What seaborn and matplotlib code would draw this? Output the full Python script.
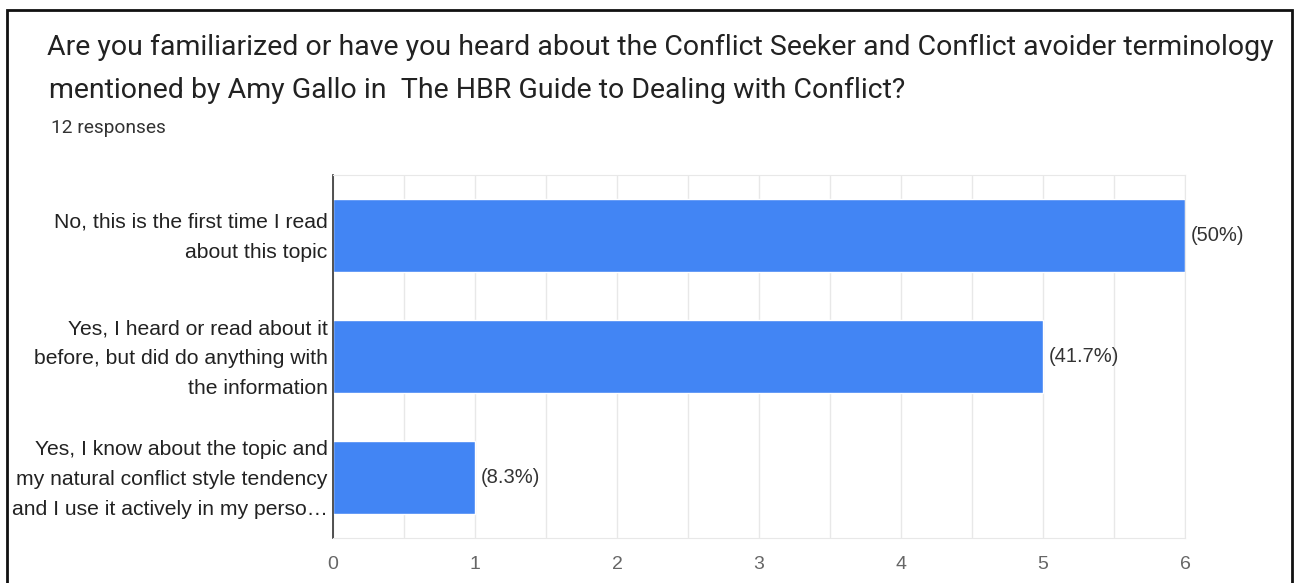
import matplotlib
matplotlib.use('Agg')
import matplotlib.pyplot as plt
import matplotlib.transforms as mtransforms
import seaborn as sns
import pandas as pd
from matplotlib.patches import Rectangle

titleLines = ['Are you familiarized or have you heard about the Conflict Seeker and Conflict avoider terminology',
              'mentioned by Amy Gallo in  The HBR Guide to Dealing with Conflict?']
subtitle = '12 responses'

answers = ['No, this is the first time I read\nabout this topic',
           'Yes, I heard or read about it\nbefore, but did do anything with\nthe information',
           'Yes, I know about the topic and\nmy natural conflict style tendency\nand I use it actively in my perso\u2026']
counts = [6, 5, 1]
percents = ['(50%)', '(41.7%)', '(8.3%)']
xTicks = [0, 1, 2, 3, 4, 5, 6]

W, H = 1295, 583


def main() -> None:

    sns.set_style('white')
    plt.rcParams['font.family'] = ['Liberation Sans', 'DejaVu Sans']

    fig = plt.figure(figsize = (W / 100, H / 100), dpi = 100)

    # outer frame of the screenshot
    fig.patches.append(Rectangle((7 / W, -0.05), 1285 / W, (H - 10) / H + 0.05,
                                 transform = fig.transFigure, fill = False,
                                 edgecolor = '#111111', linewidth = 2))

    fig.text(47 / W, 1 - 55 / H, titleLines[0], family = 'Roboto', fontsize = 20.5,
             color = '#222222', va = 'baseline')
    fig.text(49 / W, 1 - 98 / H, titleLines[1], family = 'Roboto', fontsize = 20.5,
             color = '#222222', va = 'baseline')
    fig.text(51 / W, 1 - 133 / H, subtitle, family = 'Roboto', fontsize = 13.8,
             color = '#333333', va = 'baseline')

    ax = fig.add_axes([333 / W, 45 / H, 852 / W, 363 / H])

    df = pd.DataFrame({'answer': answers, 'count': counts})
    sns.barplot(data = df, x = 'count', y = 'answer', orient = 'h', color = '#4285f4',
                saturation = 1, width = 0.61, ax = ax)

    ax.set_xlim(0, 6)
    ax.set_ylim(2.5, -0.5)
    ax.set_xticks(xTicks)
    ax.set_xticks([t + 0.5 for t in xTicks[:-1]], minor = True)
    ax.grid(True, axis = 'x', which = 'both', color = '#e8e8e8', linewidth = 1)
    ax.set_axisbelow(True)
    ax.set_xlabel('')
    ax.set_ylabel('')

    ax.tick_params(axis = 'x', which = 'both', length = 0, pad = 13, labelsize = 14, labelcolor = '#666666')
    ax.tick_params(axis = 'y', length = 0, pad = 4, labelsize = 15.2, labelcolor = '#222222')

    # nudge the multi-line labels up a little so they sit centred on the bars
    shift = mtransforms.ScaledTranslation(0, 4 / 72, fig.dpi_scale_trans)
    for lbl in ax.get_yticklabels():
        lbl.set_linespacing(1.72)
        lbl.set_transform(lbl.get_transform() + shift)

    for side in ['top', 'bottom', 'right']:
        ax.spines[side].set_color('#e8e8e8')
    ax.spines['left'].set_color('#333333')
    ax.spines['left'].set_linewidth(1.2)

    for i, (c, p) in enumerate(zip(counts, percents)):
        ax.annotate(p, (c, i), xytext = (4, 0), textcoords = 'offset points',
                    va = 'center', ha = 'left', fontsize = 14.5, color = '#333333')

    fig.savefig('out.png', dpi = 100)


if __name__ == '__main__': main()
